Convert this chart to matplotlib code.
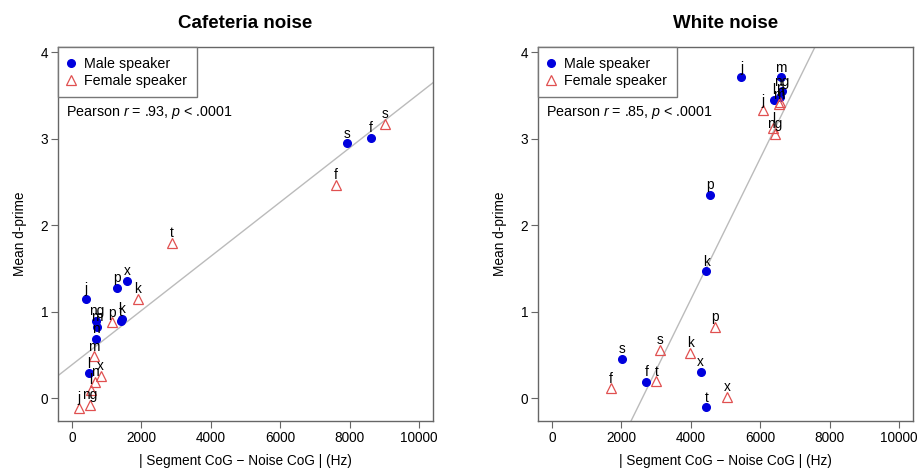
import numpy as np
import matplotlib
matplotlib.use("Agg")
import matplotlib.pyplot as plt

plt.rcParams['font.family'] = ['Liberation Sans', 'DejaVu Sans']
plt.rcParams['mathtext.fontset'] = 'custom'
plt.rcParams['mathtext.rm'] = 'Liberation Sans'
plt.rcParams['mathtext.it'] = 'Liberation Sans:italic'

# Cafeteria noise
caf_male_lab = ['j', 'p', 'x', 'k', 't', 'ng', 'm', 'n', 'l', 's', 'f']
caf_male_x = [400, 1300, 1600, 1430, 1400, 705, 725, 690, 490, 7920, 8620]
caf_male_y = [1.15, 1.28, 1.36, 0.92, 0.89, 0.90, 0.83, 0.69, 0.29, 2.95, 3.01]
caf_fem_lab = ['t', 'k', 'p', 'm', 'x', 'n', 'l', 'ng', 'j', 's', 'f']
caf_fem_x = [2880, 1900, 1160, 640, 830, 660, 540, 510, 195, 9020, 7600]
caf_fem_y = [1.80, 1.15, 0.88, 0.49, 0.26, 0.19, 0.10, -0.07, -0.11, 3.17, 2.47]

# White noise
wht_male_lab = ['j', 'm', 'k', 'p', 's', 'x', 'f', 't', 'ng', 'n', 'l']
wht_male_x = [5460, 6600, 4450, 4545, 2020, 4280, 2720, 4450, 6620, 6560, 6400]
wht_male_y = [3.71, 3.71, 1.47, 2.35, 0.46, 0.31, 0.19, -0.10, 3.55, 3.48, 3.45]
wht_fem_lab = ['j', 'ng', 'l', 'm', 'n', 'f', 't', 's', 'k', 'p', 'x']
wht_fem_x = [6090, 6420, 6380, 6540, 6560, 1690, 3010, 3110, 3990, 4710, 5055]
wht_fem_y = [3.33, 3.06, 3.12, 3.40, 3.43, 0.12, 0.20, 0.565, 0.53, 0.83, 0.02]

panels = [
    ('Cafeteria noise', '.93', caf_male_lab, caf_male_x, caf_male_y,
     caf_fem_lab, caf_fem_x, caf_fem_y),
    ('White noise', '.85', wht_male_lab, wht_male_x, wht_male_y,
     wht_fem_lab, wht_fem_x, wht_fem_y),
]

x_ticks = [0, 2000, 4000, 6000, 8000, 10000]
y_ticks = [0, 1, 2, 3, 4]

male_col = '#0000dd'
fem_col = '#e05050'
frame_col = '#666666'

fig = plt.figure(figsize=(9.18, 4.68), dpi=100)
lefts = [58 / 918, 538 / 918]

for left, (title, r_txt, mlab, mx, my, flab, fx, fy) in zip(lefts, panels):
    ax = fig.add_axes([left, 47 / 468, 375 / 918, 374 / 468])

    # regression line over both speakers
    allx = np.array(mx + fx)
    ally = np.array(my + fy)
    slope, icept = np.polyfit(allx, ally, 1)
    ax.axline((0, icept), slope=slope, color='#bbbbbb', lw=1, zorder=1)

    ax.plot(mx, my, 'o', color=male_col, ms=5.5, ls='none', zorder=3,
            label='Male speaker')
    ax.plot(fx, fy, '^', mfc='none', mec=fem_col, mew=0.9, ms=6.5,
            ls='none', zorder=3, label='Female speaker')
    for lab, x, y in list(zip(mlab, mx, my)) + list(zip(flab, fx, fy)):
        ax.annotate(lab, (x, y), xytext=(0, 4), textcoords='offset points',
                    ha='center', va='baseline', fontsize=9.8, zorder=4)

    ax.set_xlim(-400, 10400)
    ax.set_ylim(-0.26, 4.06)
    ax.set_xticks(x_ticks)
    ax.set_yticks(y_ticks)
    ax.tick_params(direction='out', length=5, width=0.8, color=frame_col,
                   labelsize=9.8, pad=2)
    for sp in ax.spines.values():
        sp.set_color(frame_col)
        sp.set_linewidth(1)

    ax.set_xlabel('| Segment CoG \u2212 Noise CoG | (Hz)', fontsize=9.8,
                  labelpad=7)
    ax.set_ylabel('Mean d-prime', fontsize=9.8, labelpad=10)
    ax.set_title(title, fontsize=13.5, fontweight='bold', pad=14)

    leg = ax.legend(loc='upper left', borderaxespad=0, fancybox=False,
                    edgecolor='#777777', framealpha=1, fontsize=10.3,
                    handlelength=0.4, handletextpad=0.73, labelspacing=0.19,
                    borderpad=0.69)
    leg.get_frame().set_linewidth(1)

    ax.text(0.022, 0.826, 'Pearson $r$ = ' + r_txt + ', $p$ < .0001',
            transform=ax.transAxes, fontsize=10.3, va='center', ha='left')

fig.savefig('out.png', dpi=100)
